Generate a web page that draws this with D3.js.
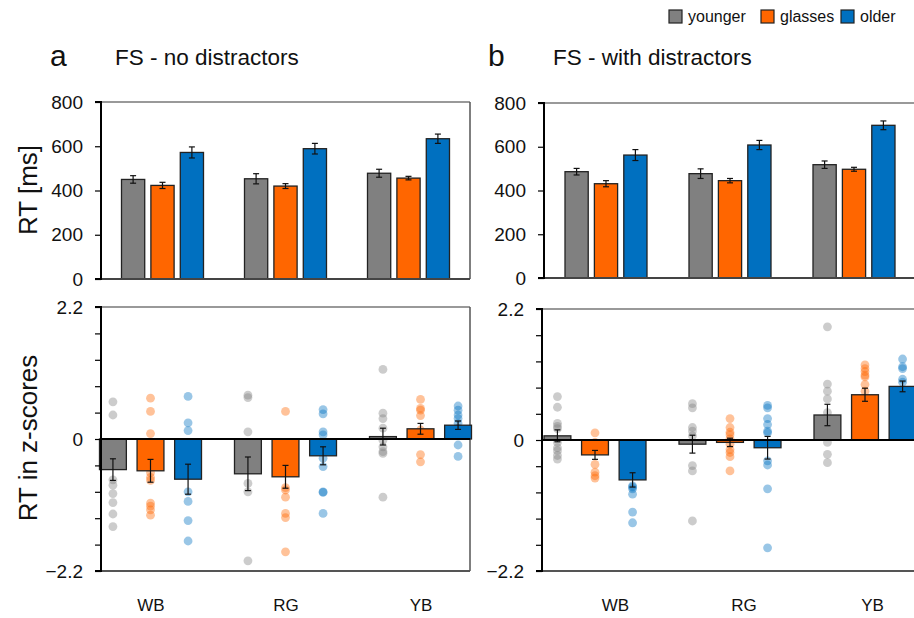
<!DOCTYPE html>
<html><head><meta charset="utf-8">
<script src="https://cdn.jsdelivr.net/npm/d3@7/dist/d3.min.js"></script>
<style>body{margin:0;background:#fff}svg{display:block;font-family:"Liberation Sans",Arial,sans-serif}</style>
</head><body><svg id="c" width="914" height="618"></svg>
<script>
const categories = ["WB","RG","YB"];
const groups = ["younger","glasses","older"];
const colors = {younger:"#808080", glasses:"#FF6600", older:"#0070C0"};

// RT means [ms] per category, series order: younger, glasses, older
const rtNoDist   = [[450,423,572],[453,420,589],[478,456,634]];
const rtNoDistSE = [[17,14,25],[23,11,24],[18,8,21]];
const rtDist     = [[486,431,562],[477,445,608],[518,497,698]];
const rtDistSE   = [[15,14,25],[22,10,21],[17,9,20]];

// z-score means
const zNoDist   = [[-0.51,-0.53,-0.67],[-0.58,-0.63,-0.28],[0.04,0.17,0.23]];
const zNoDistSE = [[0.18,0.19,0.25],[0.28,0.19,0.15],[0.14,0.09,0.07]];
const zDist     = [[0.07,-0.25,-0.67],[-0.07,-0.04,-0.13],[0.42,0.76,0.90]];
const zDistSE   = [[0.10,0.075,0.12],[0.15,0.07,0.19],[0.18,0.11,0.09]];

// individual z-scores
const ptsNoDist = [
 [[0.62,0.40,-0.68,-0.77,-0.91,-1.06,-1.25,-1.46],
  [0.68,0.46,0.09,-0.56,-0.64,-0.69,-1.07,-1.12,-1.18,-1.27],
  [0.71,0.27,0.14,-0.88,-1.04,-1.36,-1.70]],
 [[0.73,0.69,0.12,-0.74,-0.88,-2.03],
  [0.46,-0.81,-0.85,-0.97,-1.24,-1.31,-1.88],
  [0.49,0.42,0.12,0.07,-0.32,-0.46,-0.88,-0.89,-1.24]],
 [[1.16,0.43,0.34,0.18,-0.02,-0.13,-0.21,-0.24,-0.97],
  [0.66,0.51,0.48,0.39,0.15,0.07,-0.26,-0.38],
  [0.55,0.48,0.40,0.34,0.26,0.18,-0.10,-0.29]]
];
const ptsDist = [
 [[0.73,0.55,0.28,0.23,0.19,-0.04,-0.13,-0.18,-0.26,-0.32],
  [0.12,-0.04,-0.41,-0.54,-0.60,-0.64],
  [-0.77,-0.79,-0.82,-0.91,-1.21,-1.39]],
 [[0.61,0.54,0.21,0.15,0.07,-0.43,-0.52,-1.36],
  [0.36,0.21,0.13,0.09,0.02,-0.07,-0.16,-0.21,-0.28,-0.52],
  [0.58,0.54,0.36,0.26,0.15,0.12,-0.35,-0.42,-0.82,-1.81]],
 [[1.90,0.94,0.82,0.69,0.46,-0.04,-0.24,-0.38],
  [1.26,1.20,1.15,1.09,1.06,0.93,0.82],
  [1.36,1.23,1.20,1.02,0.97]]
];

const rtTicks = [0,200,400,600,800];
const zTicks = d3.range(-5,6).map(i=>+(i*0.44).toFixed(2));
const zLabels = [-2.2,0,2.2];

const svg = d3.select("#c");
const F = '"Liberation Sans",Arial,sans-serif';
const TICKFS = 19;

function topPanel(axisX, rightX, yTop, yBot, means, ses, border){
  const g = svg.append("g");
  const x = d3.scaleBand().domain(categories).range([axisX, rightX]);
  const xs = d3.scaleBand().domain(groups).range([-41,41]).paddingInner(0.21);
  const y = d3.scaleLinear().domain([0,800]).range([yBot,yTop]);
  const data = [];
  categories.forEach((c,ci)=>groups.forEach((s,si)=>data.push({c,s,v:means[ci][si],e:ses[ci][si]})));
  const cx = d => x(d.c)+x.bandwidth()/2;
  g.append("line").attr("x1",axisX).attr("x2",border?rightX:914).attr("y1",y(800)).attr("y2",y(800)).attr("stroke","#777").attr("stroke-width",1.5);
  if(border) g.append("line").attr("x1",rightX).attr("x2",rightX).attr("y1",y(800)).attr("y2",y(0)).attr("stroke","#555").attr("stroke-width",1.5);
  g.selectAll("rect.bar").data(data).enter().append("rect")
    .attr("x",d=>cx(d)+xs(d.s)).attr("width",xs.bandwidth())
    .attr("y",d=>y(d.v)).attr("height",d=>y(0)-y(d.v))
    .attr("fill",d=>colors[d.s]).attr("stroke","#222").attr("stroke-width",1.3);
  const eb = g.selectAll("g.eb").data(data).enter().append("g").attr("stroke","#111").attr("stroke-width",1.2);
  const ex = d=>cx(d)+xs(d.s)+xs.bandwidth()/2;
  eb.append("line").attr("x1",ex).attr("x2",ex).attr("y1",d=>y(d.v+d.e)).attr("y2",d=>y(d.v-d.e));
  eb.append("line").attr("x1",d=>ex(d)-3).attr("x2",d=>ex(d)+3).attr("y1",d=>y(d.v+d.e)).attr("y2",d=>y(d.v+d.e));
  eb.append("line").attr("x1",d=>ex(d)-3).attr("x2",d=>ex(d)+3).attr("y1",d=>y(d.v-d.e)).attr("y2",d=>y(d.v-d.e));
  g.append("line").attr("x1",axisX).attr("x2",border?rightX:914).attr("y1",y(0)).attr("y2",y(0)).attr("stroke","#444").attr("stroke-width",2);
  const ax = g.append("g").attr("transform",`translate(${axisX},0)`).call(d3.axisLeft(y).tickValues(rtTicks).tickSize(6).tickPadding(12));
  ax.select(".domain").attr("stroke","#000").attr("stroke-width",2).attr("d",`M-6,${y(800)}H0V${y(0)}H-6`);
  ax.selectAll(".tick line").attr("stroke","#000").attr("stroke-width",1.2);
  ax.selectAll(".tick text").attr("font-size",TICKFS).attr("font-family",F).attr("fill","#111");
}

function bottomPanel(axisX, midX, rightX, yTop, yBot, means, ses, pts, border, labMid, labStep){
  const g = svg.append("g");
  const bw = 135;
  const x = d3.scaleBand().domain(categories).range([midX-1.5*bw, midX+1.5*bw]);
  const xl = d3.scaleBand().domain(categories).range([labMid-1.5*labStep, labMid+1.5*labStep]);
  const xs = d3.scaleBand().domain(groups).range([-51,51]).paddingInner(0.285);
  const y = d3.scaleLinear().domain([-2.2,2.2]).range([yBot,yTop]);
  const data = [];
  categories.forEach((c,ci)=>groups.forEach((s,si)=>data.push({c,s,v:means[ci][si],e:ses[ci][si],p:pts[ci][si]})));
  const ex = d=>x(d.c)+x.bandwidth()/2+xs(d.s)+xs.bandwidth()/2;
  const endX = border?rightX:914;
  g.append("line").attr("x1",axisX).attr("x2",endX).attr("y1",y(2.2)).attr("y2",y(2.2)).attr("stroke","#777").attr("stroke-width",1.5);
  g.append("line").attr("x1",axisX).attr("x2",endX).attr("y1",y(-2.2)).attr("y2",y(-2.2)).attr("stroke","#555").attr("stroke-width",2);
  if(border) g.append("line").attr("x1",rightX).attr("x2",rightX).attr("y1",y(2.2)).attr("y2",y(-2.2)).attr("stroke","#555").attr("stroke-width",1.5);
  data.forEach(d=>{
    g.selectAll(null).data(d.p).enter().append("circle")
      .attr("cx",ex(d)).attr("cy",v=>y(v)).attr("r",4.4)
      .attr("fill",colors[d.s]).attr("fill-opacity",0.4);
  });
  g.selectAll("rect.bar").data(data).enter().append("rect")
    .attr("x",d=>ex(d)-xs.bandwidth()/2).attr("width",xs.bandwidth())
    .attr("y",d=>y(Math.max(0,d.v))).attr("height",d=>Math.abs(y(d.v)-y(0)))
    .attr("fill",d=>colors[d.s]).attr("stroke","#222").attr("stroke-width",1.3);
  const eb = g.selectAll("g.eb").data(data).enter().append("g").attr("stroke","#111").attr("stroke-width",1.2);
  eb.append("line").attr("x1",ex).attr("x2",ex).attr("y1",d=>y(d.v+d.e)).attr("y2",d=>y(d.v-d.e));
  eb.append("line").attr("x1",d=>ex(d)-3).attr("x2",d=>ex(d)+3).attr("y1",d=>y(d.v+d.e)).attr("y2",d=>y(d.v+d.e));
  eb.append("line").attr("x1",d=>ex(d)-3).attr("x2",d=>ex(d)+3).attr("y1",d=>y(d.v-d.e)).attr("y2",d=>y(d.v-d.e));
  g.append("line").attr("x1",axisX).attr("x2",endX).attr("y1",y(0)).attr("y2",y(0)).attr("stroke","#000").attr("stroke-width",2.2);
  const ax = g.append("g").attr("transform",`translate(${axisX},0)`)
    .call(d3.axisLeft(y).tickValues(zTicks).tickSize(6).tickPadding(12).tickFormat(v=>zLabels.some(l=>Math.abs(l-v)<1e-6)?(Math.abs(v)<1e-6?"0":d3.format(".1f")(v)):""));
  ax.select(".domain").attr("stroke","#000").attr("stroke-width",2).attr("d",`M-6,${y(2.2)}H0V${y(-2.2)}H-6`);
  ax.selectAll(".tick line").attr("stroke","#000").attr("stroke-width",1.2);
  ax.selectAll(".tick text").attr("font-size",TICKFS).attr("font-family",F).attr("fill","#111");
  g.selectAll("text.cat").data(categories).enter().append("text")
    .attr("x",c=>xl(c)+xl.bandwidth()/2).attr("y",611).attr("text-anchor","middle")
    .attr("font-size",17).attr("font-family",F).attr("fill","#111").text(c=>c);
}

topPanel(101, 470, 102, 279, rtNoDist, rtNoDistSE, true);
topPanel(544, 916, 103, 278, rtDist, rtDistSE, false);
bottomPanel(101, 285.5, 470, 307, 571, zNoDist, zNoDistSE, ptsNoDist, true, 286, 135);
bottomPanel(542, 730, 916, 309, 571, zDist, zDistSE, ptsDist, false, 744, 128.5);

svg.append("text").attr("x",50).attr("y",66).attr("font-size",30).attr("font-family",F).attr("fill","#111").text("a");
svg.append("text").attr("x",115).attr("y",65).attr("font-size",22.5).attr("font-family",F).attr("fill","#111").text("FS - no distractors");
svg.append("text").attr("x",488).attr("y",66).attr("font-size",30).attr("font-family",F).attr("fill","#111").text("b");
svg.append("text").attr("x",553).attr("y",65).attr("font-size",22.5).attr("font-family",F).attr("fill","#111").text("FS - with distractors");

svg.append("text").attr("transform","translate(37,190) rotate(-90)").attr("text-anchor","middle").attr("font-size",26).attr("font-family",F).attr("fill","#111").text("RT [ms]");
svg.append("text").attr("transform","translate(37,438) rotate(-90)").attr("text-anchor","middle").attr("font-size",26).attr("font-family",F).attr("fill","#111").text("RT in z-scores");

const legX = [669, 761, 841];
const lg = svg.append("g");
groups.forEach((s,i)=>{
  lg.append("rect").attr("x",legX[i]).attr("y",10).attr("width",13).attr("height",13).attr("fill",colors[s]).attr("stroke","#222").attr("stroke-width",1.2);
  lg.append("text").attr("x",legX[i]+19).attr("y",22).attr("font-size",16).attr("font-family",F).attr("fill","#111").text(s);
});
</script></body></html>
